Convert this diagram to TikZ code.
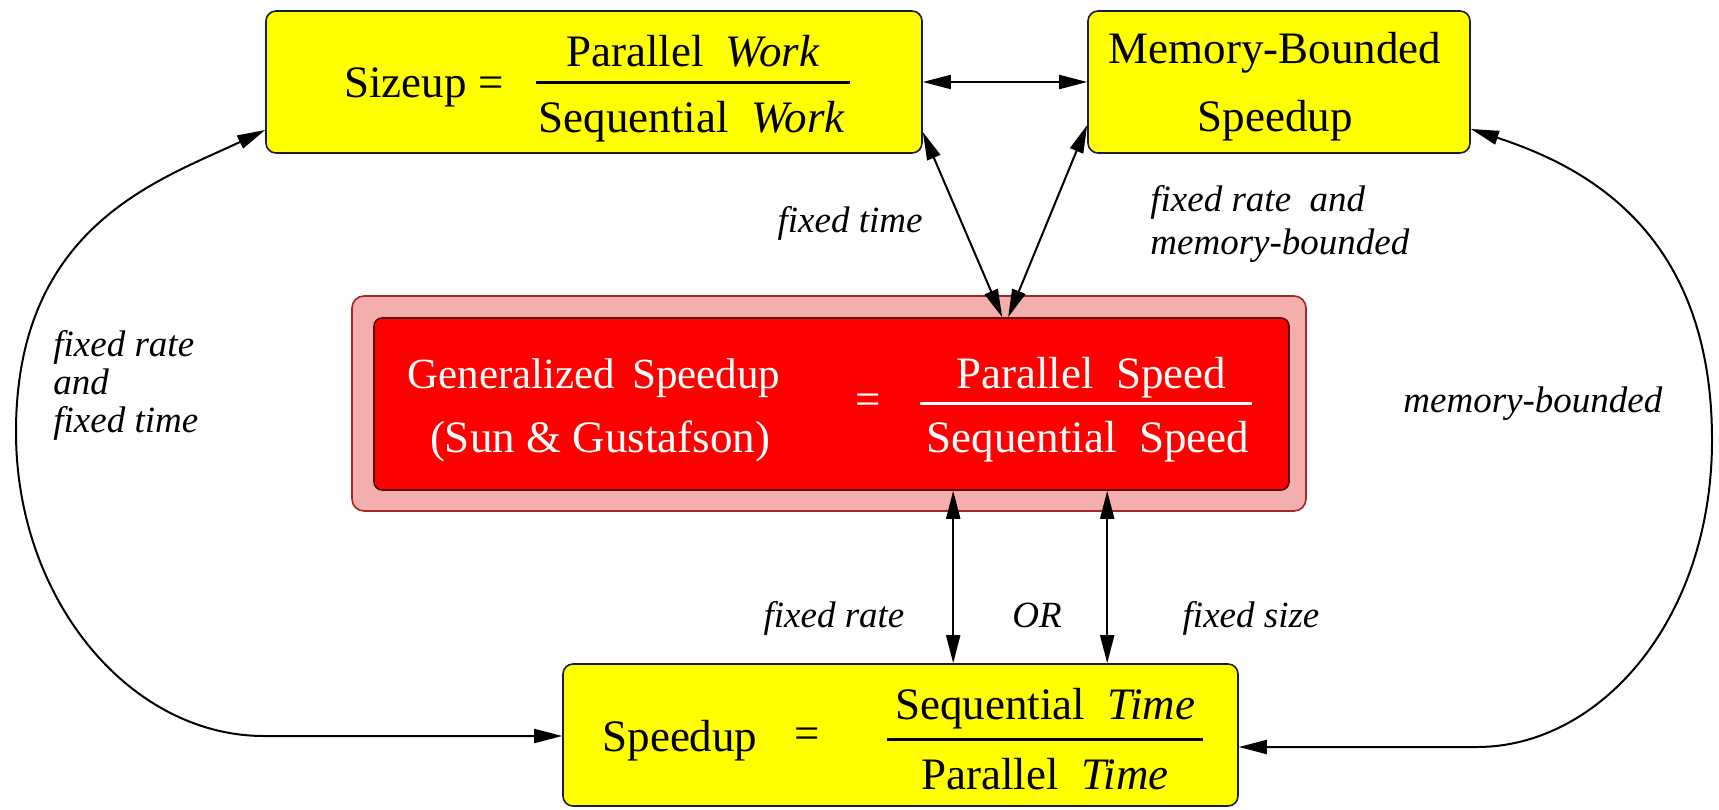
\documentclass[tikz,border=0pt]{standalone}
\usepackage{fontspec}
\setmainfont{Liberation Serif}
\usetikzlibrary{arrows.meta,calc}
\definecolor{yel}{RGB}{255,255,0}
\definecolor{ybord}{RGB}{25,25,80}
\definecolor{redf}{RGB}{255,0,0}
\definecolor{redb}{RGB}{90,10,10}
\definecolor{pinkf}{RGB}{243,174,174}
\definecolor{pinkb}{RGB}{160,40,40}
\begin{document}
\begin{tikzpicture}[x=0.5pt,y=-0.5pt,
  ybox/.style={draw=ybord, line width=0.8pt, fill=yel, rounded corners=5pt, inner sep=0pt},
  pbox/.style={draw=pinkb, line width=0.8pt, fill=pinkf, rounded corners=6pt, inner sep=0pt},
  rbox/.style={draw=redb, line width=0.8pt, fill=redf, rounded corners=4pt, inner sep=0pt},
  btxt/.style={font=\fontsize{22.5}{27}\selectfont, inner sep=0pt, anchor=base},
  wtxt/.style={btxt, text=white},
  lbl/.style={font=\fontsize{18.5}{22}\selectfont\itshape, inner sep=0pt, anchor=mid},
  fbar/.style={line width=1.5pt},
  wbar/.style={line width=1.5pt, draw=white},
  darr/.style={line width=1pt, {Triangle[length=14pt,width=7pt]}-{Triangle[length=14pt,width=7pt]}}]
\useasboundingbox (0,0) rectangle (1719,809);

% boxes
\node[ybox, minimum width=328pt, minimum height=71pt] (S) at (594,82) {};
\node[ybox, minimum width=191pt, minimum height=71pt] (M) at (1279,82) {};
\node[pbox, minimum width=477pt, minimum height=107.5pt] (P) at (829,403.5) {};
\node[rbox, minimum width=457.5pt, minimum height=86pt] (G) at (831.5,404) {};
\node[ybox, minimum width=337.5pt, minimum height=71pt] (B) at (900.5,735) {};

% Sizeup text
\node[btxt, anchor=base west] (s1) at (344,97) {Sizeup =};
\node[btxt] (s2) at (693,66) {Parallel~~\textit{Work}};
\node[btxt] (s3) at (692,132) {Sequential~~\textit{Work}};
\draw[fbar] (536,82) -- (850,82);

% Memory-bounded text
\node[btxt] (m1) at (1275,63) {Memory-Bounded};
\node[btxt] (m2) at (1275,131) {Speedup};

% Generalized text
\node[wtxt, font=\fontsize{21.5}{26}\selectfont] (g1) at (594,388) {Generalized\hspace{0.4em}Speedup};
\node[wtxt] (g2) at (600,452) {(Sun \& Gustafson)};
\node[wtxt] (g3) at (868,414) {=};
\node[wtxt] (g4) at (1091,388) {Parallel~~Speed};
\node[wtxt] (g5) at (1088,452) {Sequential~~Speed};
\draw[wbar] (920,403) -- (1252,403);

% Speedup text
\node[btxt] (b1) at (680,751) {Speedup};
\node[btxt] (b2) at (807,748) {=};
\node[btxt] (b3) at (1045,719) {Sequential~~\textit{Time}};
\node[btxt] (b4) at (1045,789) {Parallel~~\textit{Time}};
\draw[fbar] (887,739) -- (1203,739);

% labels
\node[lbl] (l1) at (850,228) {fixed time};
\node[lbl, anchor=mid west] (l2) at (1150,207) {fixed rate~~and};
\node[lbl, anchor=mid west] (l3) at (1150,250) {memory-bounded};
\node[lbl, anchor=mid west] (l4) at (53,352) {fixed rate};
\node[lbl, anchor=mid west] (l5) at (53,390) {and};
\node[lbl, anchor=mid west] (l6) at (53,428) {fixed time};
\node[lbl, anchor=mid west] (l7) at (1403,408) {memory-bounded};
\node[lbl] (l8) at (834,623) {fixed rate};
\node[lbl] (l9) at (1037,623) {OR};
\node[lbl] (l10) at (1251,623) {fixed size};

% connectors
\draw[darr] (S.east) -- (M.west);
\draw[darr] ($(S.east)+(0,50)$) -- ($(G.north west)+(629,0)$);
\draw[darr] ($(M.west)+(0,43)$) -- ($(G.north west)+(635,0)$);
\coordinate (v1) at ($(G.south west)+(580,0)$);
\coordinate (v2) at ($(G.south west)+(734,0)$);
\draw[darr] (v1) -- (v1 |- B.north);
\draw[darr] (v2) -- (v2 |- B.north);
\draw[darr] ($(S.west)+(0,48)$) .. controls (160,180) and (16,225) .. (16,432)
   .. controls (16,600) and (130,736) .. (264,736) -- ($(B.west)+(0,1)$);
\draw[darr] ($(M.east)+(0,47)$) .. controls (1580,165) and (1712,228) .. (1712,440)
   .. controls (1712,620) and (1600,747) .. (1477,747) -- ($(B.east)+(0,12)$);
\end{tikzpicture}
\end{document}
